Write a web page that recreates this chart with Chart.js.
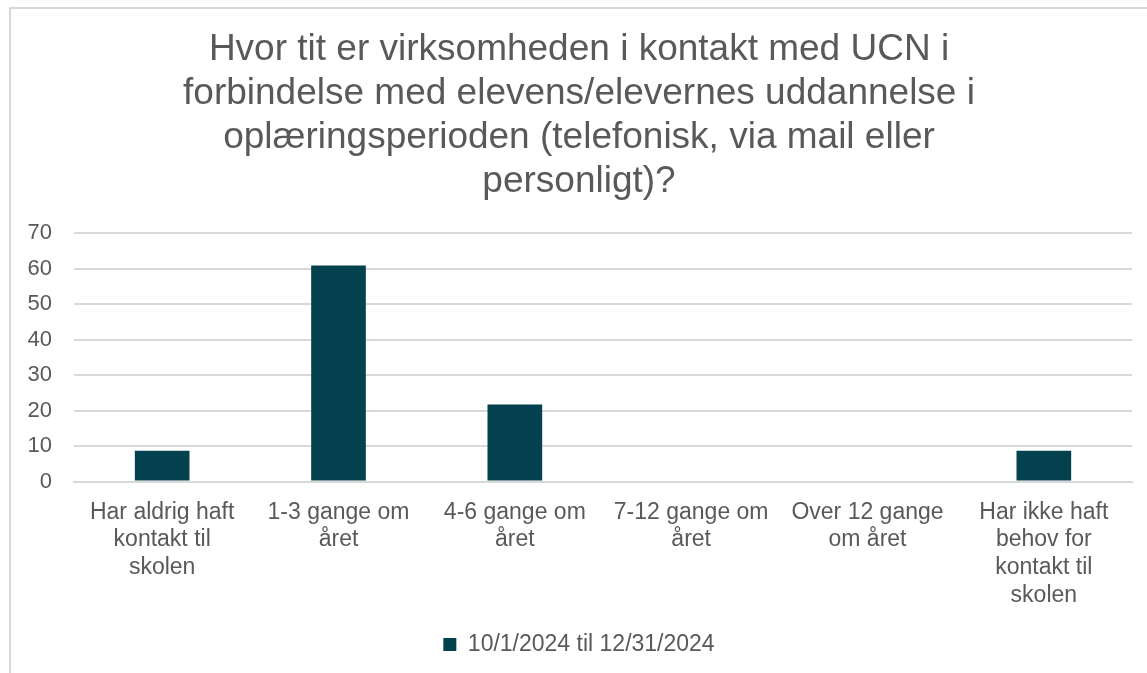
<!DOCTYPE html>
<html>
<head>
<meta charset="utf-8">
<script src="https://cdn.jsdelivr.net/npm/chart.js@4/dist/chart.umd.min.js"></script>
<style>
  html, body { margin: 0; padding: 0; background: #fff; overflow: hidden; }
  #wrap { position: relative; width: 1147px; height: 673px; }
  #frame { position: absolute; left: 9px; top: 7px; width: 1200px; height: 700px;
           border: 2px solid #d9d9d9; box-sizing: border-box; }
  canvas { position: absolute; left: 0; top: 0; }
</style>
</head>
<body>
<div id="wrap">
  <div id="frame"></div>
  <canvas id="chart" width="1147" height="673"></canvas>
</div>
<script>
// Chart data
const titleLines = [
  'Hvor tit er virksomheden i kontakt med UCN i',
  'forbindelse med elevens/elevernes uddannelse i',
  'oplæringsperioden (telefonisk, via mail eller',
  'personligt)?'
];
const categories = [
  ['Har aldrig haft', 'kontakt til', 'skolen'],
  ['1-3 gange om', 'året'],
  ['4-6 gange om', 'året'],
  ['7-12 gange om', 'året'],
  ['Over 12 gange', 'om året'],
  ['Har ikke haft', 'behov for', 'kontakt til', 'skolen']
];
const seriesName = '10/1/2024 til 12/31/2024';
const seriesValues = [8.7, 60.9, 21.7, 0, 0, 8.7];
const yMin = 0, yMax = 70, yStep = 10;

const textColor = '#595959';
const barColor = '#02414d';
const font = 'Liberation Sans, Arial, sans-serif';

const ctx = document.getElementById('chart').getContext('2d');
new Chart(ctx, {
  type: 'bar',
  data: {
    labels: categories,
    datasets: [{
      label: seriesName,
      data: seriesValues,
      backgroundColor: barColor,
      borderWidth: 0,
      categoryPercentage: 1.0,
      barPercentage: 0.31
    }]
  },
  options: {
    responsive: false,
    animation: false,
    layout: { padding: { left: 26, right: 15, top: 28, bottom: 7 } },
    plugins: {
      title: {
        display: true,
        text: titleLines,
        color: textColor,
        font: { family: font, size: 37, weight: 'normal', lineHeight: 1.19 },
        padding: { top: 0, bottom: 29 }
      },
      legend: {
        position: 'bottom',
        labels: {
          color: textColor,
          font: { family: font, size: 23 },
          boxWidth: 13,
          boxHeight: 13,
          padding: 15
        }
      },
      tooltip: { enabled: false }
    },
    scales: {
      x: {
        grid: { display: false },
        border: { color: '#d9d9d9', width: 2 },
        ticks: {
          color: textColor,
          font: { family: font, size: 23, lineHeight: 1.2 },
          maxRotation: 0,
          autoSkip: false,
          padding: 9
        }
      },
      y: {
        min: yMin,
        max: yMax,
        // keep the labels near the frame while the title centres further right
        afterFit: (scale) => { scale.width = 48; },
        grid: { color: '#d9d9d9', lineWidth: 2, drawTicks: false },
        border: { display: false },
        ticks: {
          stepSize: yStep,
          color: textColor,
          font: { family: font, size: 22 },
          padding: 22
        }
      }
    }
  }
});
</script>
</body>
</html>
